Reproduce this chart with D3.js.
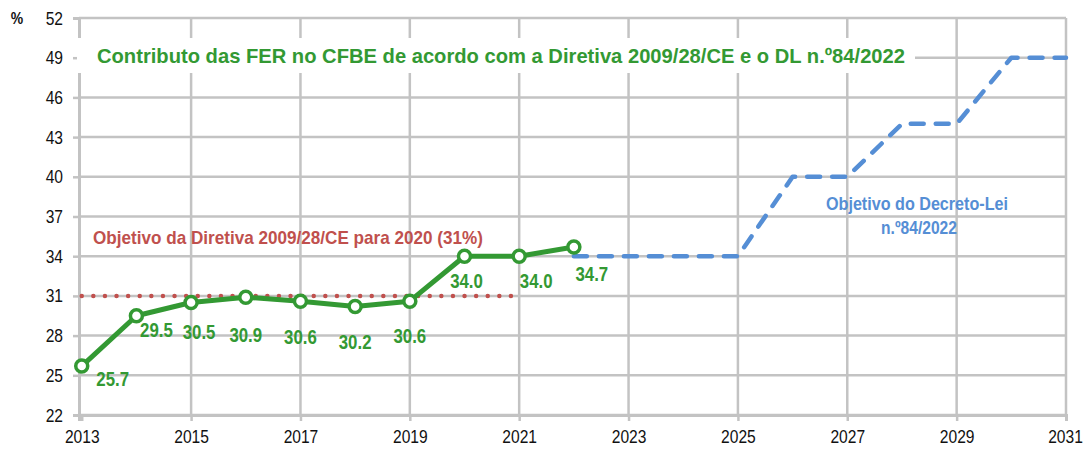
<!DOCTYPE html>
<html><head><meta charset="utf-8">
<script src="https://cdn.jsdelivr.net/npm/d3@7"></script>
<style>
html,body{margin:0;padding:0;background:#fff;}
svg{display:block;}
text{font-family:"Liberation Sans",Arial,sans-serif;}
</style></head>
<body>
<svg id="chart" width="1089" height="450"></svg>
<script>
// ---- data ----
const actualYears = [2013,2014,2015,2016,2017,2018,2019,2020,2021,2022];
const actualValues = [25.7,29.5,30.5,30.9,30.6,30.2,30.6,34.0,34.0,34.7];
const targetYears = [2022,2023,2024,2025,2026,2027,2028,2029,2030,2031];
const targetValues = [34,34,34,34,40,40,44,44,49,49];
const directiveYears = [2013,2021];
const directiveValue = 31;
const yTicks = [22,25,28,31,34,37,40,43,46,49,52];
const xTicks = [2013,2015,2017,2019,2021,2023,2025,2027,2029,2031];
const titleText = "Contributo das FER no CFBE de acordo com a Diretiva 2009/28/CE e o DL n.º84/2022";
const directiveLabel = "Objetivo da Diretiva 2009/28/CE para 2020 (31%)";
const targetLabel = ["Objetivo do Decreto-Lei","n.º84/2022"];
const unitLabel = "%";

// ---- layout ----
(function(){
const svg = d3.select("#chart");
const mL = 79, mR = 1066, mT = 18, mB = 415;
const x = d3.scaleLinear().domain([2012.95,2031]).range([mL,mR]);
const y = d3.scaleLinear().domain([22,52]).range([mB,mT]);
const GRID = "#c3c3c3", GREEN = "#339933", RED = "#c0504d", BLUE = "#558ed5";

// condense text horizontally (emulates a narrow face)
function narrow(sel, factor, fixed){
  sel.each(function(){
    const w = fixed || this.getComputedTextLength()*factor;
    d3.select(this).attr("textLength",w).attr("lengthAdjust","spacingAndGlyphs");
  });
}

// gridlines
svg.append("g").selectAll("line").data(yTicks).join("line")
  .attr("x1",mL).attr("x2",mR).attr("y1",d=>y(d)).attr("y2",d=>y(d))
  .attr("stroke",GRID).attr("stroke-width",2.5);
svg.append("g").selectAll("line").data(xTicks.slice(1)).join("line")
  .attr("x1",d=>x(d)).attr("x2",d=>x(d)).attr("y1",mT).attr("y2",mB)
  .attr("stroke",GRID).attr("stroke-width",2.5);

// axes
const yAxis = d3.axisLeft(y).tickValues(yTicks).tickSize(6).tickPadding(10);
const gy = svg.append("g").attr("transform",`translate(${mL},0)`).call(yAxis);
const xAxis = d3.axisBottom(x).tickValues(xTicks).tickFormat(d3.format("d")).tickSize(6).tickPadding(9);
const gx = svg.append("g").attr("transform",`translate(0,${mB})`).call(xAxis);
[gx,gy].forEach(g=>{
  g.select(".domain").attr("stroke",GRID).attr("stroke-width",3);
  g.selectAll(".tick line").attr("stroke",GRID).attr("stroke-width",2.5);
  g.selectAll(".tick text").attr("fill","#111").style("font-size","19px")
    .style("font-family","'Liberation Sans',Arial,sans-serif");
  narrow(g.selectAll(".tick text"),0.82);
});
gx.selectAll(".tick text").filter(d=>d===2031).attr("dx","-1");

const ul = svg.append("text").attr("x",17).attr("y",24).attr("text-anchor","middle")
  .style("font-size","17px").style("font-weight","bold").attr("fill","#111").text(unitLabel);
narrow(ul,0.82);

// title with white box
svg.append("rect").attr("x",77).attr("y",38).attr("width",838).attr("height",35).attr("fill","#fff");
const tt = svg.append("text").attr("x",97).attr("y",63)
  .style("font-size","21px").style("font-weight","bold").attr("fill",GREEN).text(titleText);
narrow(tt,0,808);

// directive dotted line
svg.append("line")
  .attr("x1",x(directiveYears[0])).attr("x2",x(directiveYears[1]))
  .attr("y1",y(directiveValue)).attr("y2",y(directiveValue))
  .attr("stroke",RED).attr("stroke-width",4.5).attr("stroke-linecap","round")
  .attr("stroke-dasharray","0,11.6");
const dl = svg.append("text").attr("x",93).attr("y",244)
  .style("font-size","19px").style("font-weight","bold").attr("fill",RED).text(directiveLabel);
narrow(dl,0,390);

// target dashed line
const lineGen = d3.line().x(d=>x(d[0])).y(d=>y(d[1]));
svg.append("path").datum(targetYears.map((t,i)=>[t,targetValues[i]]))
  .attr("d",lineGen).attr("fill","none").attr("stroke",BLUE).attr("stroke-width",4.5)
  .attr("stroke-linecap","round").attr("stroke-linejoin","round").attr("stroke-dasharray","13,12");
const t1 = svg.append("text").attr("text-anchor","middle").attr("fill",BLUE)
  .attr("x",917).attr("y",210).style("font-size","19px").style("font-weight","bold").text(targetLabel[0]);
narrow(t1,0,182);
const t2 = svg.append("text").attr("text-anchor","middle").attr("fill",BLUE)
  .attr("x",919).attr("y",234).style("font-size","19px").style("font-weight","bold").text(targetLabel[1]);
narrow(t2,0.82);

// actual line
const pts = actualYears.map((t,i)=>[t,actualValues[i]]);
svg.append("path").datum(pts).attr("d",lineGen).attr("fill","none")
  .attr("stroke",GREEN).attr("stroke-width",5).attr("stroke-linejoin","round");
svg.append("g").selectAll("circle").data(pts).join("circle")
  .attr("cx",d=>x(d[0])).attr("cy",d=>y(d[1])).attr("r",6)
  .attr("fill","#fff").attr("stroke",GREEN).attr("stroke-width",3.5);

// data labels (placement offsets)
const labelDx = [31,20,8,0,0,0,0,2,17,18];
const labelDy = [13,14,29,38,36,36,35,25,25,27];
const lbl = svg.append("g").selectAll("text").data(pts).join("text")
  .attr("x",(d,i)=>x(d[0])+labelDx[i]).attr("y",(d,i)=>y(d[1])+labelDy[i]+7)
  .attr("text-anchor","middle").attr("fill",GREEN)
  .style("font-size","20.5px").style("font-weight","bold")
  .text(d=>d[1].toFixed(1));
narrow(lbl,0.82);
})();
</script>
</body></html>
